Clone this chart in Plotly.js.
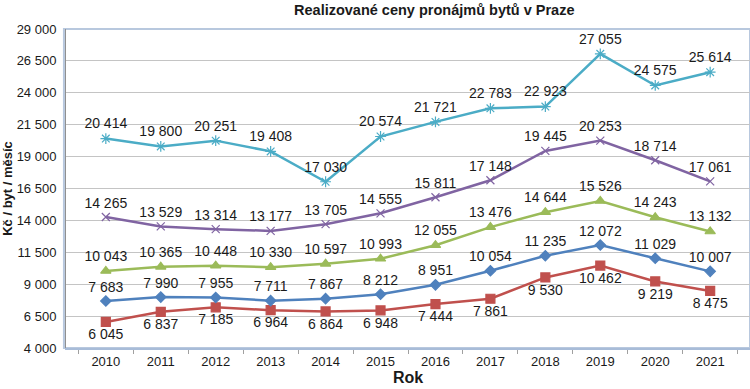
<!DOCTYPE html>
<html>
<head>
<meta charset="utf-8">
<script src="https://cdn.plot.ly/plotly-3.0.1.min.js"></script>
<style>html,body{margin:0;padding:0;background:#fff;}#chart{width:750px;height:389px;}</style>
</head>
<body>
<div id="chart"></div>
<script>
const years = ['2010','2011','2012','2013','2014','2015','2016','2017','2018','2019','2020','2021'];
const cyanSeries   = [20414, 19800, 20251, 19408, 17030, 20574, 21721, 22783, 22923, 27055, 24575, 25614];
const purpleSeries = [14265, 13529, 13314, 13177, 13705, 14555, 15811, 17148, 19445, 20253, 18714, 17061];
const greenSeries  = [10043, 10365, 10448, 10330, 10597, 10993, 12055, 13476, 14644, 15526, 14243, 13132];
const blueSeries   = [7683, 7990, 7955, 7711, 7867, 8212, 8951, 10054, 11235, 12072, 11029, 10007];
const redSeries    = [6045, 6837, 7185, 6964, 6864, 6948, 7444, 7861, 9530, 10462, 9219, 8475];
const yTicks = [4000, 6500, 9000, 11500, 14000, 16500, 19000, 21500, 24000, 26500, 29000];

const fontFam = 'Liberation Sans, Arial, sans-serif';
function tr(y, color, symbol, size, pos) {
  return {
    x: years, y: y, type: 'scatter', mode: 'lines+markers+text',
    line: {color: color, width: 2.5},
    marker: {color: color, symbol: symbol, size: size, line: {color: color, width: 1.2}},
    text: y, texttemplate: '%{y:,d}', textposition: pos,
    textfont: {family: fontFam, size: 14, color: '#1a1a1a'},
    cliponaxis: false, hoverinfo: 'skip'
  };
}
const data = [
  tr(redSeries, '#c0504d', 'square', 9, 'bottom center'),
  tr(blueSeries, '#4f81bd', 'diamond', 8, 'top center'),
  tr(greenSeries, '#9bbb59', 'triangle-up', 9, 'top center'),
  tr(purpleSeries, '#8064a2', 'x-thin-open', 8, 'top center'),
  tr(cyanSeries, '#4bacc6', 'asterisk-open', 9, 'top center')
];
const layout = {
  width: 750, height: 389,
  margin: {l: 66, r: 0, t: 29, b: 41},
  paper_bgcolor: '#ffffff', plot_bgcolor: '#ffffff',
  separators: ', ',
  showlegend: false,
  font: {family: fontFam, size: 13, color: '#1a1a1a'},
  title: {text: '<b>Realizované ceny pronájmů bytů v Praze</b>', font: {family: fontFam, size: 14.5, color: '#1a1a1a'},
          x: 0.579, xref: 'container', xanchor: 'center', y: 0.975, yref: 'container', yanchor: 'middle'},
  xaxis: {
    type: 'category', tickson: 'boundaries', ticks: 'outside', ticklen: 4, tickcolor: '#a0a0a0',
    showgrid: false, showline: true, linecolor: '#a8bcd8', linewidth: 2,
    tickfont: {family: fontFam, size: 13, color: '#1a1a1a'},
    title: {text: '<b>Rok</b>', font: {family: fontFam, size: 16, color: '#1a1a1a'}, standoff: 3},
    automargin: false
  },
  yaxis: {
    range: [4000, 29000], tickvals: yTicks, tickformat: ',d',
    showgrid: true, gridcolor: '#c4c4c4', gridwidth: 1,
    showline: true, linecolor: '#909090', linewidth: 1, zeroline: false,
    ticks: '', ticklabelstandoff: 6, tickfont: {family: fontFam, size: 13, color: '#1a1a1a'},
    title: {text: '<b>Kč / byt / měsíc</b>', font: {family: fontFam, size: 13, color: '#1a1a1a'}, standoff: 1},
    automargin: false
  },
  shapes: [
    {type: 'rect', xref: 'paper', yref: 'paper', x0: -0.003, x1: 1.0, y0: 0, y1: 1,
     line: {color: '#b8c8de', width: 2}, fillcolor: 'rgba(0,0,0,0)', layer: 'below'}
  ]
};
Plotly.newPlot('chart', data, layout, {displayModeBar: false, staticPlot: true});
</script>
</body>
</html>
